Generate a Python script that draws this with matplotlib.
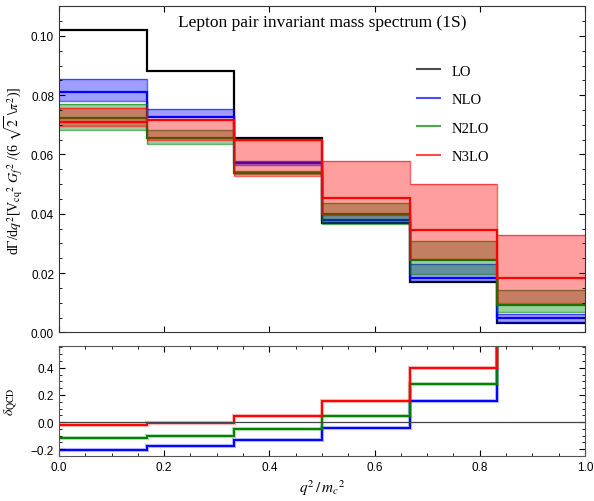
import matplotlib
matplotlib.use('Agg')
import matplotlib.pyplot as plt
from matplotlib.lines import Line2D
from matplotlib.ticker import MultipleLocator
import numpy as np

plt.rcParams['mathtext.fontset'] = 'stix'

# bin edges in q^2/m_c^2
edges = [0, 1/6, 2/6, 3/6, 4/6, 5/6, 1]

# spectrum, central values and scale bands
lo = [0.1019, 0.0880, 0.0654, 0.0368, 0.0169, 0.0031]
nlo = [0.0812, 0.0728, 0.0570, 0.0378, 0.0185, 0.0050]
nlo_lo = [0.0779, 0.0726, 0.0563, 0.0371, 0.0174, 0.0034]
nlo_hi = [0.0855, 0.0755, 0.0578, 0.0400, 0.0230, 0.0062]
n2lo = [0.0722, 0.0655, 0.0538, 0.0400, 0.0243, 0.0092]
n2lo_lo = [0.0681, 0.0637, 0.0533, 0.0365, 0.0196, 0.0068]
n2lo_hi = [0.0770, 0.0684, 0.0544, 0.0435, 0.0309, 0.0144]
n3lo = [0.0710, 0.0716, 0.0648, 0.0452, 0.0345, 0.0182]
n3lo_lo = [0.0697, 0.0650, 0.0527, 0.0395, 0.0247, 0.0099]
n3lo_hi = [0.0757, 0.0718, 0.0648, 0.0578, 0.0501, 0.0328]

# delta_QCD (last bin runs off the top of the panel)
d_nlo = [-0.203, -0.173, -0.129, -0.045, 0.155, 1.5]
d_n2lo = [-0.116, -0.099, -0.054, 0.044, 0.279, 2.5]
d_n3lo = [-0.025, -0.008, 0.044, 0.158, 0.400, 4.0]

names = ['LO', 'NLO', 'N2LO', 'N3LO']
cols = ['black', '#0000ff', '#008000', '#ff0000']

serif = 'Liberation Serif'
sans = 'Liberation Sans'

fig = plt.figure(figsize=(5.94, 5.02), dpi=100)
ax = fig.add_axes([0.0993, 0.3357, 0.8855, 0.650])
ax2 = fig.add_axes([0.0993, 0.0896, 0.8855, 0.219])

ax.stairs(lo, edges, baseline=None, color='black', lw=1.6)
for c, lo_, hi_, cen in [(cols[1], nlo_lo, nlo_hi, nlo),
                         (cols[2], n2lo_lo, n2lo_hi, n2lo),
                         (cols[3], n3lo_lo, n3lo_hi, n3lo)]:
    ax.stairs(hi_, edges, baseline=lo_, fill=True, color=c, alpha=0.38, lw=0)
    ax.stairs(hi_, edges, baseline=None, color=c, alpha=0.6, lw=1.0)
    ax.stairs(lo_, edges, baseline=None, color=c, alpha=0.6, lw=1.0)
    ax.stairs(cen, edges, baseline=None, color=c, lw=1.6)

ax.set_xlim(0, 1)
ax.set_ylim(0, 0.11)
ax.yaxis.set_major_locator(MultipleLocator(0.02))
ax.yaxis.set_minor_locator(MultipleLocator(0.005))
ax.xaxis.set_major_locator(MultipleLocator(0.2))
ax.set_xticklabels([])
ax.yaxis.set_major_formatter(matplotlib.ticker.FormatStrFormatter('%.2f'))
ax.tick_params(which='both', direction='in', top=True, right=True, labelsize=8.5)
ax.tick_params(which='major', length=4)
ax.tick_params(which='minor', length=2.5)
for lab in ax.get_yticklabels():
    lab.set_family(sans)
ax.text(0.5, 0.975, 'Lepton pair invariant mass spectrum (1S)', transform=ax.transAxes,
        ha='center', va='top', fontsize=12.5, family=serif)
ax.set_ylabel(r'd$\Gamma$/d$q^2$[V$_{\rm cq}{}^2$ $G_f{}^2$ /(6 $\sqrt{2}$ $\backslash\pi^2$)]',
              fontsize=10, family=serif, labelpad=4)

handles = [Line2D([], [], color=c, lw=1.5, alpha=0.7) for c in cols]
ax.legend(handles, names, loc='upper left', bbox_to_anchor=(0.655, 0.862), frameon=False,
          prop={'family': serif, 'size': 10.5}, labelspacing=1.05, handlelength=1.6)

for sp in ax.spines.values():
    sp.set_color('#333333')

# lower panel
ax2.axhline(0, color='#444444', lw=0.9)
for c, d in [(cols[1], d_nlo), (cols[2], d_n2lo), (cols[3], d_n3lo)]:
    ax2.stairs(d, edges, baseline=None, color=c, alpha=0.3, lw=3)
    ax2.stairs(d, edges, baseline=None, color=c, lw=1.4)
ax2.set_xlim(0, 1)
ax2.set_ylim(-0.25, 0.56)
ax2.xaxis.set_major_locator(MultipleLocator(0.2))
ax2.xaxis.set_minor_locator(MultipleLocator(0.05))
ax2.yaxis.set_major_locator(MultipleLocator(0.2))
ax2.yaxis.set_minor_locator(MultipleLocator(0.05))
ax2.xaxis.set_major_formatter(matplotlib.ticker.FormatStrFormatter('%.1f'))
ax2.yaxis.set_major_formatter(matplotlib.ticker.FuncFormatter(
    lambda v, p: ('%.1f' % v).replace('-', '\u2212')))
ax2.tick_params(which='both', direction='in', top=True, right=True, labelsize=8.5)
ax2.tick_params(which='major', length=4)
ax2.tick_params(which='minor', length=2.5)
for lab in ax2.get_xticklabels() + ax2.get_yticklabels():
    lab.set_family(sans)
ax2.set_ylabel(r'$\delta_{\rm QCD}$', fontsize=10, family=serif, labelpad=8)
ax2.set_xlabel(r'$q^2\,/\,m_c{}^2$', fontsize=11, family=serif, labelpad=3)
for sp in ax2.spines.values():
    sp.set_color('#555555')

fig.savefig('out.png', dpi=100)
